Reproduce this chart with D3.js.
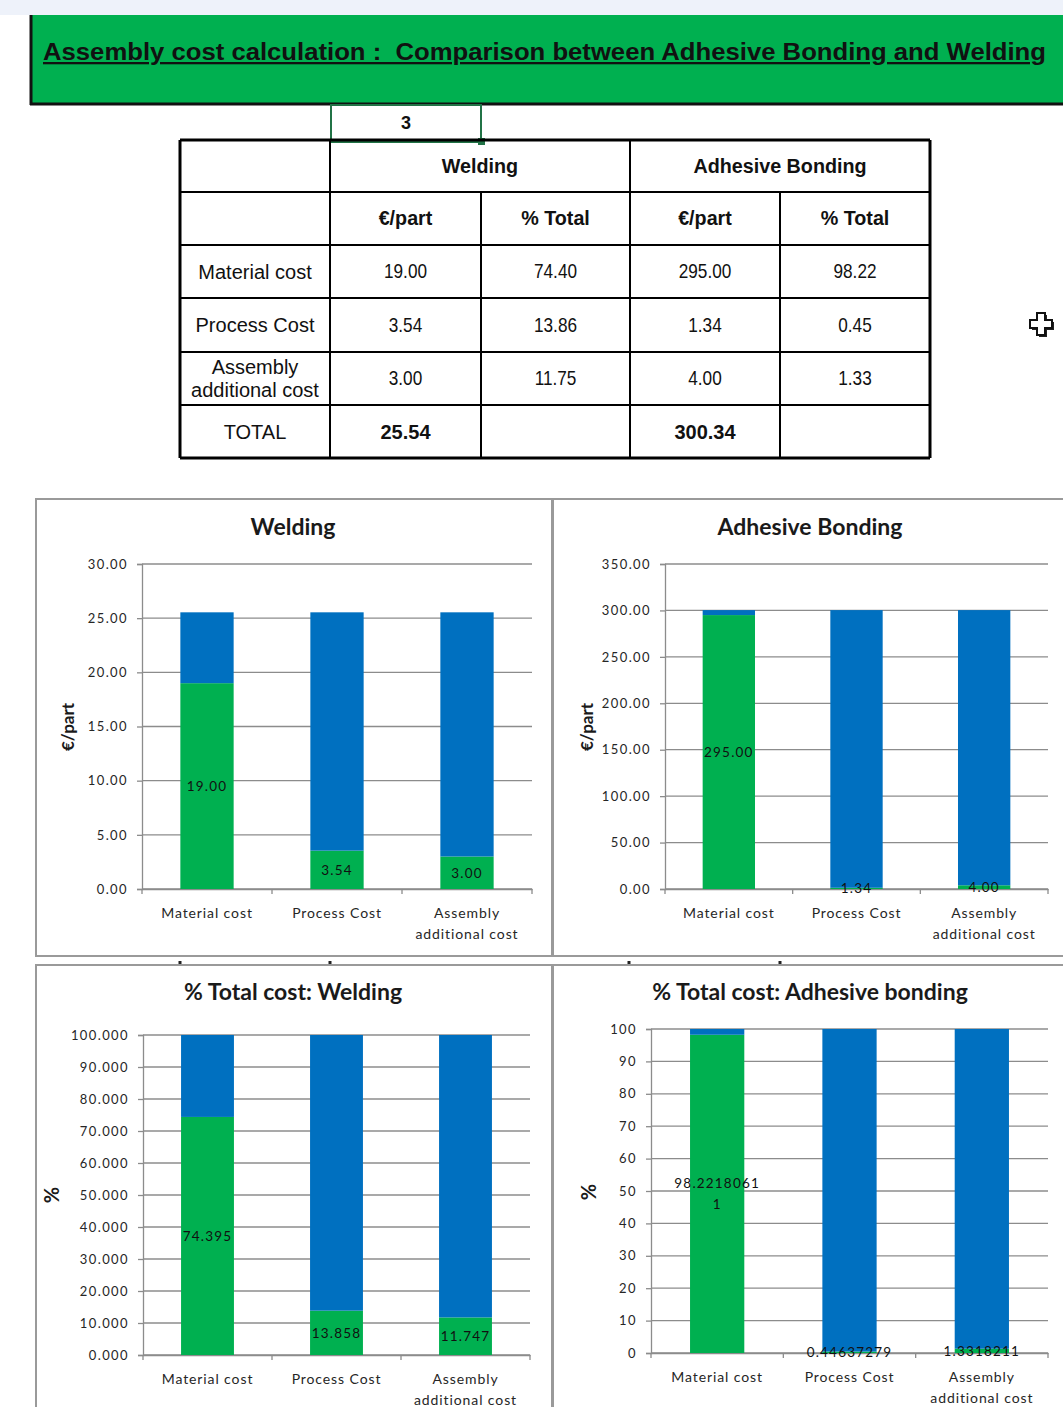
<!DOCTYPE html>
<html><head><meta charset="utf-8">
<script src="https://cdn.jsdelivr.net/npm/d3@7/dist/d3.min.js"></script>
<style>
html,body{margin:0;padding:0;background:#fff;}
svg{display:block;}
</style></head><body>
<svg id="c" width="1063" height="1407"></svg>
<script>
// ---------- DATA ----------
const pageTitle = "Assembly cost calculation :  Comparison between Adhesive Bonding and Welding";
const selectedCell = "3";
const categories = ["Material cost", "Process Cost", "Assembly additional cost"];
const categoryLines = [["Material cost"], ["Process Cost"], ["Assembly", "additional cost"]];

const tableGroups = ["Welding", "Adhesive Bonding"];
const tableSubHeads = ["€/part", "% Total", "€/part", "% Total"];
const tableRowLabels = [["Material cost"], ["Process Cost"], ["Assembly", "additional cost"], ["TOTAL"]];
const weldingPartCol = ["19.00", "3.54", "3.00", "25.54"];
const weldingPctCol = ["74.40", "13.86", "11.75", ""];
const bondingPartCol = ["295.00", "1.34", "4.00", "300.34"];
const bondingPctCol = ["98.22", "0.45", "1.33", ""];

// chart series (green = share of the category, blue = remainder of the total)
const weldingEur = [19.00, 3.54, 3.00];
const weldingEurRest = [6.54, 22.00, 22.54];
const weldingEurLabels = [["19.00"], ["3.54"], ["3.00"]];
const bondingEur = [295.00, 1.34, 4.00];
const bondingEurRest = [5.34, 299.00, 296.34];
const bondingEurLabels = [["295.00"], ["1.34"], ["4.00"]];
const weldingPct = [74.395, 13.858, 11.747];
const weldingPctRest = [25.605, 86.142, 88.253];
const weldingPctLabels = [["74.395"], ["13.858"], ["11.747"]];
const bondingPct = [98.2218061, 0.44637279, 1.3318211];
const bondingPctRest = [1.7781939, 99.55362721, 98.6681789];
const bondingPctLabels = [["98.2218061", "1"], ["0.44637279"], ["1.3318211"]];

const chartTitles = ["Welding", "Adhesive Bonding", "% Total cost: Welding", "% Total cost: Adhesive bonding"];
const yTitles = ["€/part", "€/part", "%", "%"];

// ---------- STYLE ----------
const GREEN = "#00b050", BLUE = "#0070c0";
const ARIAL = "'Liberation Sans',Arial,sans-serif";
const CAL = "Lato,'Open Sans',sans-serif";

const svg = d3.select("#c");

// top strip
svg.append("rect").attr("x", 0).attr("y", 0).attr("width", 1063).attr("height", 15).attr("fill", "#eef2fa");
// green title band
svg.append("rect").attr("x", 30).attr("y", 15).attr("width", 1040).attr("height", 89).attr("fill", GREEN);
svg.append("line").attr("x1", 31).attr("x2", 31).attr("y1", 15).attr("y2", 105).attr("stroke", "#111").attr("stroke-width", 3);
svg.append("line").attr("x1", 30).attr("x2", 1063).attr("y1", 104).attr("y2", 104).attr("stroke", "#111").attr("stroke-width", 3);
svg.append("text").attr("x", 43).attr("y", 60).attr("textLength", 1003).attr("lengthAdjust", "spacingAndGlyphs")
  .attr("font-family", ARIAL).attr("font-weight", "bold").attr("font-size", 23).attr("fill", "#111")
  .style("white-space", "pre").attr("text-decoration", "underline").text(pageTitle);

// selected cell
svg.append("rect").attr("x", 331).attr("y", 105).attr("width", 150).attr("height", 37)
  .attr("fill", "none").attr("stroke", "#217346").attr("stroke-width", 2);
svg.append("rect").attr("x", 478).attr("y", 138).attr("width", 7).attr("height", 7).attr("fill", "#217346");
svg.append("text").attr("x", 406).attr("y", 129).attr("text-anchor", "middle").attr("font-family", ARIAL)
  .attr("font-weight", "bold").attr("font-size", 18).attr("fill", "#111").text(selectedCell);

// ---------- TABLE ----------
const colX = [180, 330, 481, 630, 780, 930];
const rowY = [140, 192, 245, 298, 352, 405, 458];
const tg = svg.append("g");
const cx = i => (colX[i] + colX[i + 1]) / 2;
const cy = j => (rowY[j] + rowY[j + 1]) / 2;
function cellText(x, y, lines, opts) {
  const sx = opts.sx || 1;
  const t = tg.append("text").attr("text-anchor", "middle")
    .attr("transform", `translate(${x},0) scale(${sx},1)`)
    .attr("font-family", ARIAL).attr("font-size", opts.size || 20)
    .attr("font-weight", opts.bold ? "bold" : "normal").attr("fill", "#111");
  const lh = opts.lh || 23;
  lines.forEach((l, k) => {
    t.append("tspan").attr("x", 0).attr("y", y + (k - (lines.length - 1) / 2) * lh + 7).text(l);
  });
}
cellText((colX[1] + colX[3]) / 2, cy(0), [tableGroups[0]], { bold: true, size: 21, sx: 0.94 });
cellText((colX[3] + colX[5]) / 2, cy(0), [tableGroups[1]], { bold: true, size: 21, sx: 0.94 });
tableSubHeads.forEach((h, i) => cellText(cx(i + 1), cy(1), [h], { bold: true, size: 21, sx: 0.94 }));
const cols = [weldingPartCol, weldingPctCol, bondingPartCol, bondingPctCol];
tableRowLabels.forEach((lab, r) => {
  cellText(cx(0), cy(r + 2), lab, { size: 20, lh: 23 });
  cols.forEach((col, c) => {
    const last = r === tableRowLabels.length - 1;
    cellText(cx(c + 1), cy(r + 2), [col[r]], last ? { bold: true, size: 20 } : { size: 20, sx: 0.86 });
  });
});
// grid lines
const LW = 2;
rowY.forEach((y, j) => {
  tg.append("line").attr("x1", colX[0]).attr("x2", colX[5]).attr("y1", y).attr("y2", y)
    .attr("stroke", "#000").attr("stroke-width", (j === 0 || j === rowY.length - 1) ? 3 : LW);
});
colX.forEach((x, i) => {
  const y0 = (i === 2 || i === 4) ? rowY[1] : rowY[0];
  tg.append("line").attr("x1", x).attr("x2", x).attr("y1", y0).attr("y2", rowY[6])
    .attr("stroke", "#000").attr("stroke-width", (i === 0 || i === 5) ? 3 : LW);
});

// cursor icon
(function () {
  const p = "M-4,-11 H4 V-4 H11 V4 H4 V11 H-4 V4 H-11 V-4 H-4 Z";
  svg.append("path").attr("d", p).attr("transform", "translate(1043,326)").attr("fill", "#222");
  svg.append("path").attr("d", p).attr("transform", "translate(1041,324)").attr("fill", "#fff").attr("stroke", "#111").attr("stroke-width", 2);
})();

// ---------- CHARTS ----------
function drawChart(o) {
  const g = svg.append("g");
  g.append("rect").attr("x", o.fx).attr("y", o.fy).attr("width", o.fw).attr("height", o.fh)
    .attr("fill", "#fff").attr("stroke", "#9a9a9a").attr("stroke-width", 2);
  g.append("text").attr("x", o.tx).attr("y", o.ty).attr("text-anchor", "middle")
    .attr("font-family", CAL).attr("font-weight", "bold").attr("font-size", 23).attr("fill", "#1a1a1a").text(o.title);

  const x = d3.scaleBand().domain(categories).range([o.x0, o.x1]).paddingInner(0.59).paddingOuter(0.295);
  const y = d3.scaleLinear().domain([0, o.max]).range([o.yb, o.yt]);
  const ticks = d3.range(0, o.max + o.step / 2, o.step);

  // gridlines
  g.append("g").selectAll("line").data(ticks).join("line")
    .attr("x1", o.x0).attr("x2", o.x1).attr("y1", d => y(d)).attr("y2", d => y(d))
    .attr("stroke", "#8c8c8c").attr("stroke-width", 1.3);

  // y axis
  const ya = g.append("g").attr("transform", `translate(${o.x0},0)`)
    .call(d3.axisLeft(y).tickValues(ticks).tickFormat(o.fmt).tickSize(5).tickPadding(9));
  ya.select(".domain").attr("stroke", "#8c8c8c").attr("stroke-width", 1.3);
  ya.selectAll(".tick line").attr("stroke", "#8c8c8c").attr("stroke-width", 1.3);
  ya.selectAll(".tick text").attr("font-family", CAL).attr("font-size", 13).attr("letter-spacing", 1.4).attr("fill", "#262626");

  // x axis
  const xa = g.append("g").attr("transform", `translate(0,${o.yb})`)
    .call(d3.axisBottom(x).tickSize(0).tickFormat(""));
  xa.select(".domain").attr("stroke", "#8c8c8c").attr("stroke-width", 1.3);
  const step = x.step();
  g.append("g").selectAll("line").data(d3.range(0, categories.length + 1)).join("line")
    .attr("x1", i => o.x0 + i * step).attr("x2", i => o.x0 + i * step)
    .attr("y1", o.yb).attr("y2", o.yb + 5).attr("stroke", "#8c8c8c").attr("stroke-width", 1.3);

  // category labels
  categories.forEach((c, i) => {
    const t = g.append("text").attr("text-anchor", "middle").attr("font-family", CAL)
      .attr("font-size", 14).attr("letter-spacing", 0.9).attr("fill", "#262626");
    categoryLines[i].forEach((l, k) => t.append("tspan").attr("x", x(c) + x.bandwidth() / 2).attr("y", o.yb + 29 + k * 21).text(l));
  });

  // stacked bars
  const rows = categories.map((c, i) => ({ cat: c, a: o.green[i], b: o.rest[i] }));
  const series = d3.stack().keys(["a", "b"])(rows);
  const colors = { a: GREEN, b: BLUE };
  g.append("g").selectAll("g").data(series).join("g").attr("fill", s => colors[s.key])
    .selectAll("rect").data(s => s).join("rect")
    .attr("x", d => x(d.data.cat)).attr("width", x.bandwidth())
    .attr("y", d => y(d[1])).attr("height", d => y(d[0]) - y(d[1]));

  // data labels (centre of green segment)
  rows.forEach((r, i) => {
    const mid = y(r.a / 2);
    const lines = o.labels[i];
    const t = g.append("text").attr("text-anchor", "middle").attr("font-family", CAL)
      .attr("font-size", 13.5).attr("letter-spacing", 1.2).attr("fill", "#111");
    lines.forEach((l, k) => t.append("tspan").attr("x", x(r.cat) + x.bandwidth() / 2)
      .attr("y", mid + 5 + (k - (lines.length - 1) / 2) * 21).text(l));
  });

  // y title
  g.append("text").attr("transform", `translate(${o.ytx},${o.yty}) rotate(-90)`).attr("text-anchor", "middle")
    .attr("font-family", CAL).attr("font-weight", "bold").attr("font-size", o.ytsize).attr("fill", "#1a1a1a").text(o.ytitle);
}

drawChart({ fx: 36, fy: 499, fw: 516, fh: 457, tx: 293, ty: 535, title: chartTitles[0],
  x0: 142, x1: 532, yt: 564, yb: 889, max: 30, step: 5, fmt: d3.format(".2f"),
  green: weldingEur, rest: weldingEurRest, labels: weldingEurLabels, ytitle: yTitles[0], ytsize: 17, ytx: 74, yty: 727 });
drawChart({ fx: 553, fy: 499, fw: 520, fh: 457, tx: 810, ty: 535, title: chartTitles[1],
  x0: 665, x1: 1048, yt: 564, yb: 889, max: 350, step: 50, fmt: d3.format(".2f"),
  green: bondingEur, rest: bondingEurRest, labels: bondingEurLabels, ytitle: yTitles[1], ytsize: 17, ytx: 593, yty: 727 });
drawChart({ fx: 36, fy: 965, fw: 516, fh: 460, tx: 293, ty: 1000, title: chartTitles[2],
  x0: 143, x1: 530, yt: 1035, yb: 1355, max: 100, step: 10, fmt: d3.format(".3f"),
  green: weldingPct, rest: weldingPctRest, labels: weldingPctLabels, ytitle: yTitles[2], ytsize: 20, ytx: 59, yty: 1195 });
drawChart({ fx: 553, fy: 965, fw: 520, fh: 460, tx: 810, ty: 1000, title: chartTitles[3],
  x0: 651, x1: 1048, yt: 1029, yb: 1353, max: 100, step: 10, fmt: d3.format("d"),
  green: bondingPct, rest: bondingPctRest, labels: bondingPctLabels, ytitle: yTitles[3], ytsize: 20, ytx: 596, yty: 1192 });

// small column-boundary handles between the chart rows
svg.append("g").selectAll("rect").data([180, 330, 629, 780]).join("rect")
  .attr("x", d => d - 1.5).attr("y", 961).attr("width", 3).attr("height", 3).attr("fill", "#222");
</script>
</body></html>
